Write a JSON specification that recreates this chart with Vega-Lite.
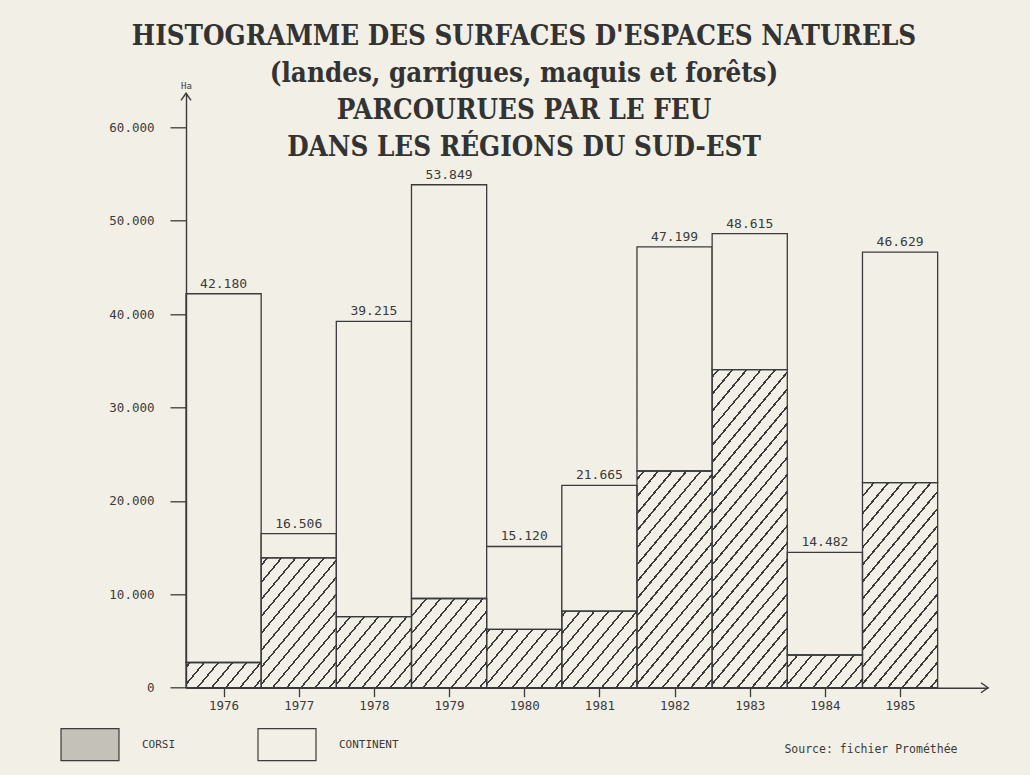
{
  "$schema": "https://vega.github.io/schema/vega-lite/v6.json",
  "width": 802,
  "height": 594.4,
  "autosize": "none",
  "padding": {"left": 186, "top": 93.3, "right": 42, "bottom": 87.3},
  "background": "#f2efe7",
  "title": {
    "text": ["HISTOGRAMME DES SURFACES D'ESPACES NATURELS", "(landes, garrigues, maquis et forêts)", "PARCOURUES PAR LE FEU", "DANS LES RÉGIONS DU SUD-EST"],
    "font": "DejaVu Serif Condensed, DejaVu Serif",
    "fontSize": 27.5,
    "fontWeight": "bold",
    "color": "#333333",
    "lineHeight": 37,
    "anchor": "middle",
    "dx": -63,
    "dy": 80,
    "offset": 0
  },
  "config": {
    "view": {"stroke": null},
    "axis": {"grid": false},
    "locale": {"number": {"decimal": ",", "thousands": ".", "grouping": [3], "currency": ["", " €"]}}
  },
  "datasets": {
    "feux": [
      {"annee": 1976, "corse": 2700, "total": 42180},
      {"annee": 1977, "corse": 13900, "total": 16506},
      {"annee": 1978, "corse": 7600, "total": 39215},
      {"annee": 1979, "corse": 9550, "total": 53849},
      {"annee": 1980, "corse": 6250, "total": 15120},
      {"annee": 1981, "corse": 8200, "total": 21665},
      {"annee": 1982, "corse": 23200, "total": 47199},
      {"annee": 1983, "corse": 34050, "total": 48615},
      {"annee": 1984, "corse": 3500, "total": 14482},
      {"annee": 1985, "corse": 21950, "total": 46629}
    ]
  },
  "data": {"name": "feux"},
  "layer": [
    {
      "transform": [{"filter": "datum.corse <= 14000"}],
      "mark": {
        "type": "bar",
        "orient": "vertical",
        "width": 75.17,
        "fill": {
          "gradient": "linear", "x1": 0, "y1": 0, "x2": 0.78983, "y2": 1.14499,
          "stops": [
            {"offset": 0, "color": "#f2efe7"},
            {"offset": 0.0328, "color": "#f2efe7"}, {"offset": 0.0328, "color": "#3b3b3b"}, {"offset": 0.0442, "color": "#3b3b3b"}, {"offset": 0.0442, "color": "#f2efe7"},
            {"offset": 0.1097, "color": "#f2efe7"}, {"offset": 0.1097, "color": "#3b3b3b"}, {"offset": 0.1211, "color": "#3b3b3b"}, {"offset": 0.1211, "color": "#f2efe7"},
            {"offset": 0.1866, "color": "#f2efe7"}, {"offset": 0.1866, "color": "#3b3b3b"}, {"offset": 0.198, "color": "#3b3b3b"}, {"offset": 0.198, "color": "#f2efe7"},
            {"offset": 0.2635, "color": "#f2efe7"}, {"offset": 0.2635, "color": "#3b3b3b"}, {"offset": 0.2749, "color": "#3b3b3b"}, {"offset": 0.2749, "color": "#f2efe7"},
            {"offset": 0.3405, "color": "#f2efe7"}, {"offset": 0.3405, "color": "#3b3b3b"}, {"offset": 0.3519, "color": "#3b3b3b"}, {"offset": 0.3519, "color": "#f2efe7"},
            {"offset": 0.4174, "color": "#f2efe7"}, {"offset": 0.4174, "color": "#3b3b3b"}, {"offset": 0.4288, "color": "#3b3b3b"}, {"offset": 0.4288, "color": "#f2efe7"},
            {"offset": 0.4943, "color": "#f2efe7"}, {"offset": 0.4943, "color": "#3b3b3b"}, {"offset": 0.5057, "color": "#3b3b3b"}, {"offset": 0.5057, "color": "#f2efe7"},
            {"offset": 0.5712, "color": "#f2efe7"}, {"offset": 0.5712, "color": "#3b3b3b"}, {"offset": 0.5826, "color": "#3b3b3b"}, {"offset": 0.5826, "color": "#f2efe7"},
            {"offset": 0.6482, "color": "#f2efe7"}, {"offset": 0.6482, "color": "#3b3b3b"}, {"offset": 0.6596, "color": "#3b3b3b"}, {"offset": 0.6596, "color": "#f2efe7"},
            {"offset": 0.7251, "color": "#f2efe7"}, {"offset": 0.7251, "color": "#3b3b3b"}, {"offset": 0.7365, "color": "#3b3b3b"}, {"offset": 0.7365, "color": "#f2efe7"},
            {"offset": 0.802, "color": "#f2efe7"}, {"offset": 0.802, "color": "#3b3b3b"}, {"offset": 0.8134, "color": "#3b3b3b"}, {"offset": 0.8134, "color": "#f2efe7"},
            {"offset": 0.8789, "color": "#f2efe7"}, {"offset": 0.8789, "color": "#3b3b3b"}, {"offset": 0.8903, "color": "#3b3b3b"}, {"offset": 0.8903, "color": "#f2efe7"},
            {"offset": 0.9558, "color": "#f2efe7"}, {"offset": 0.9558, "color": "#3b3b3b"}, {"offset": 0.9672, "color": "#3b3b3b"}, {"offset": 0.9672, "color": "#f2efe7"},
            {"offset": 1, "color": "#f2efe7"}
          ]
        }
      },
      "encoding": {
        "x": {
          "field": "annee", "type": "quantitative",
          "scale": {"domain": [1975.5, 1986.17], "nice": false, "zero": false, "padding": 0},
          "axis": {
            "values": [1976, 1977, 1978, 1979, 1980, 1981, 1982, 1983, 1984, 1985],
            "format": "d", "labelFlush": false, "labelOverlap": false,
            "domainColor": "#3b3b3b", "domainWidth": 1.4,
            "tickColor": "#3b3b3b", "tickWidth": 1.3, "tickSize": 9,
            "labelFont": "DejaVu Sans Mono", "labelFontSize": 12.5, "labelColor": "#3b3b3b", "labelPadding": 3,
            "title": "Source: fichier Prométhée",
            "titleFont": "DejaVu Sans Mono", "titleFontSize": 11.5, "titleFontWeight": "normal", "titleColor": "#3b3b3b",
            "titleX": 771, "titleY": 62, "titleAlign": "right", "titleBaseline": "middle",
            "zindex": 1
          }
        },
        "y": {
          "datum": 14000, "type": "quantitative",
          "scale": {"domain": [0, 63640], "nice": false, "zero": true},
          "axis": {
            "values": [0, 10000, 20000, 30000, 40000, 50000, 60000],
            "format": ",d",
            "domainColor": "#3b3b3b", "domainWidth": 1.4,
            "tickColor": "#3b3b3b", "tickWidth": 1.3, "tickSize": 16,
            "labelFont": "DejaVu Sans Mono", "labelFontSize": 12.5, "labelColor": "#3b3b3b", "labelPadding": 16,
            "title": "Ha", "titleAngle": 0, "titleX": 0, "titleY": -3, "titleAlign": "center", "titleBaseline": "bottom",
            "titleFont": "DejaVu Sans Mono", "titleFontSize": 9, "titleFontWeight": "normal", "titleColor": "#3b3b3b",
            "zindex": 1
          }
        }
      }
    },
    {
      "transform": [{"filter": "datum.corse > 14000"}],
      "mark": {
        "type": "bar",
        "orient": "vertical",
        "width": 75.17,
        "fill": {
          "gradient": "linear", "x1": 0, "y1": 0, "x2": 0.31739, "y2": 1.18313,
          "stops": [
            {"offset": 0, "color": "#f2efe7"},
            {"offset": 0.017, "color": "#f2efe7"}, {"offset": 0.017, "color": "#3b3b3b"}, {"offset": 0.023, "color": "#3b3b3b"}, {"offset": 0.023, "color": "#f2efe7"},
            {"offset": 0.057, "color": "#f2efe7"}, {"offset": 0.057, "color": "#3b3b3b"}, {"offset": 0.063, "color": "#3b3b3b"}, {"offset": 0.063, "color": "#f2efe7"},
            {"offset": 0.097, "color": "#f2efe7"}, {"offset": 0.097, "color": "#3b3b3b"}, {"offset": 0.103, "color": "#3b3b3b"}, {"offset": 0.103, "color": "#f2efe7"},
            {"offset": 0.137, "color": "#f2efe7"}, {"offset": 0.137, "color": "#3b3b3b"}, {"offset": 0.143, "color": "#3b3b3b"}, {"offset": 0.143, "color": "#f2efe7"},
            {"offset": 0.177, "color": "#f2efe7"}, {"offset": 0.177, "color": "#3b3b3b"}, {"offset": 0.183, "color": "#3b3b3b"}, {"offset": 0.183, "color": "#f2efe7"},
            {"offset": 0.217, "color": "#f2efe7"}, {"offset": 0.217, "color": "#3b3b3b"}, {"offset": 0.223, "color": "#3b3b3b"}, {"offset": 0.223, "color": "#f2efe7"},
            {"offset": 0.257, "color": "#f2efe7"}, {"offset": 0.257, "color": "#3b3b3b"}, {"offset": 0.263, "color": "#3b3b3b"}, {"offset": 0.263, "color": "#f2efe7"},
            {"offset": 0.297, "color": "#f2efe7"}, {"offset": 0.297, "color": "#3b3b3b"}, {"offset": 0.303, "color": "#3b3b3b"}, {"offset": 0.303, "color": "#f2efe7"},
            {"offset": 0.337, "color": "#f2efe7"}, {"offset": 0.337, "color": "#3b3b3b"}, {"offset": 0.343, "color": "#3b3b3b"}, {"offset": 0.343, "color": "#f2efe7"},
            {"offset": 0.377, "color": "#f2efe7"}, {"offset": 0.377, "color": "#3b3b3b"}, {"offset": 0.383, "color": "#3b3b3b"}, {"offset": 0.383, "color": "#f2efe7"},
            {"offset": 0.417, "color": "#f2efe7"}, {"offset": 0.417, "color": "#3b3b3b"}, {"offset": 0.423, "color": "#3b3b3b"}, {"offset": 0.423, "color": "#f2efe7"},
            {"offset": 0.457, "color": "#f2efe7"}, {"offset": 0.457, "color": "#3b3b3b"}, {"offset": 0.463, "color": "#3b3b3b"}, {"offset": 0.463, "color": "#f2efe7"},
            {"offset": 0.497, "color": "#f2efe7"}, {"offset": 0.497, "color": "#3b3b3b"}, {"offset": 0.503, "color": "#3b3b3b"}, {"offset": 0.503, "color": "#f2efe7"},
            {"offset": 0.537, "color": "#f2efe7"}, {"offset": 0.537, "color": "#3b3b3b"}, {"offset": 0.543, "color": "#3b3b3b"}, {"offset": 0.543, "color": "#f2efe7"},
            {"offset": 0.577, "color": "#f2efe7"}, {"offset": 0.577, "color": "#3b3b3b"}, {"offset": 0.583, "color": "#3b3b3b"}, {"offset": 0.583, "color": "#f2efe7"},
            {"offset": 0.617, "color": "#f2efe7"}, {"offset": 0.617, "color": "#3b3b3b"}, {"offset": 0.623, "color": "#3b3b3b"}, {"offset": 0.623, "color": "#f2efe7"},
            {"offset": 0.657, "color": "#f2efe7"}, {"offset": 0.657, "color": "#3b3b3b"}, {"offset": 0.663, "color": "#3b3b3b"}, {"offset": 0.663, "color": "#f2efe7"},
            {"offset": 0.697, "color": "#f2efe7"}, {"offset": 0.697, "color": "#3b3b3b"}, {"offset": 0.703, "color": "#3b3b3b"}, {"offset": 0.703, "color": "#f2efe7"},
            {"offset": 0.737, "color": "#f2efe7"}, {"offset": 0.737, "color": "#3b3b3b"}, {"offset": 0.743, "color": "#3b3b3b"}, {"offset": 0.743, "color": "#f2efe7"},
            {"offset": 0.777, "color": "#f2efe7"}, {"offset": 0.777, "color": "#3b3b3b"}, {"offset": 0.783, "color": "#3b3b3b"}, {"offset": 0.783, "color": "#f2efe7"},
            {"offset": 0.817, "color": "#f2efe7"}, {"offset": 0.817, "color": "#3b3b3b"}, {"offset": 0.823, "color": "#3b3b3b"}, {"offset": 0.823, "color": "#f2efe7"},
            {"offset": 0.857, "color": "#f2efe7"}, {"offset": 0.857, "color": "#3b3b3b"}, {"offset": 0.863, "color": "#3b3b3b"}, {"offset": 0.863, "color": "#f2efe7"},
            {"offset": 0.897, "color": "#f2efe7"}, {"offset": 0.897, "color": "#3b3b3b"}, {"offset": 0.903, "color": "#3b3b3b"}, {"offset": 0.903, "color": "#f2efe7"},
            {"offset": 0.937, "color": "#f2efe7"}, {"offset": 0.937, "color": "#3b3b3b"}, {"offset": 0.943, "color": "#3b3b3b"}, {"offset": 0.943, "color": "#f2efe7"},
            {"offset": 0.977, "color": "#f2efe7"}, {"offset": 0.977, "color": "#3b3b3b"}, {"offset": 0.983, "color": "#3b3b3b"}, {"offset": 0.983, "color": "#f2efe7"},
            {"offset": 1, "color": "#f2efe7"}
          ]
        }
      },
      "encoding": {
        "x": {"field": "annee", "type": "quantitative"},
        "y": {"datum": 36000, "type": "quantitative"}
      }
    },
    {
      "mark": {"type": "bar", "orient": "vertical", "width": 75.17, "fill": "#f2efe7", "stroke": "#3b3b3b", "strokeWidth": 1.3},
      "encoding": {
        "x": {"field": "annee", "type": "quantitative"},
        "y": {"field": "corse", "type": "quantitative"},
        "y2": {"field": "total"}
      }
    },
    {
      "mark": {"type": "bar", "orient": "vertical", "width": 75.17, "fill": "transparent", "stroke": "#3b3b3b", "strokeWidth": 1.3},
      "encoding": {
        "x": {"field": "annee", "type": "quantitative"},
        "y": {"field": "corse", "type": "quantitative"}
      }
    },
    {
      "mark": {"type": "text", "font": "DejaVu Sans Mono", "fontSize": 13, "color": "#3b3b3b", "baseline": "alphabetic", "align": "center", "dy": -6},
      "encoding": {
        "x": {"field": "annee", "type": "quantitative"},
        "y": {"field": "total", "type": "quantitative"},
        "text": {"field": "total", "type": "quantitative", "format": ","}
      }
    },
    {
      "data": {"values": [{}]},
      "mark": {"type": "point", "shape": "M-1,1.4L0,0L1,1.4", "size": 100, "filled": false, "stroke": "#3b3b3b", "strokeWidth": 1.4, "opacity": 1},
      "encoding": {
        "x": {"datum": 1975.5, "type": "quantitative"},
        "y": {"datum": 63640, "type": "quantitative"}
      }
    },
    {
      "data": {"values": [{}]},
      "mark": {"type": "point", "shape": "M-1.4,-1L0,0L-1.4,1", "size": 100, "filled": false, "stroke": "#3b3b3b", "strokeWidth": 1.4, "opacity": 1},
      "encoding": {
        "x": {"datum": 1986.17, "type": "quantitative"},
        "y": {"datum": 0, "type": "quantitative"}
      }
    },
    {
      "data": {"values": [{"partie": "CORSI"}, {"partie": "CONTINENT"}]},
      "mark": {"type": "bar", "orient": "vertical", "width": 0.5, "opacity": 1},
      "encoding": {
        "x": {"datum": 1975.5, "type": "quantitative"},
        "y": {"datum": 0, "type": "quantitative"},
        "fill": {
          "field": "partie", "type": "nominal",
          "scale": {"domain": ["CORSI", "CONTINENT"], "range": ["#c4c1b9", "#f2efe7"]},
          "legend": {
            "orient": "none", "legendX": -126, "legendY": 621, "direction": "horizontal",
            "title": null,
            "symbolType": "M-1,-0.55H1V0.55H-1Z", "symbolSize": 3364,
            "symbolStrokeColor": "#3b3b3b", "symbolStrokeWidth": 1.2, "symbolOpacity": 1,
            "labelFont": "DejaVu Sans Mono", "labelFontSize": 11, "labelColor": "#3b3b3b",
            "labelOffset": 22, "columnPadding": 79
          }
        }
      }
    }
  ]
}
